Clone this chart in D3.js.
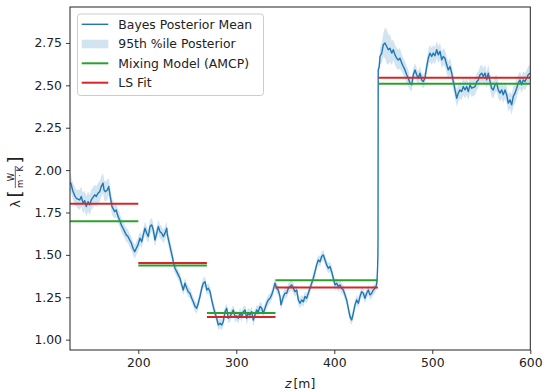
<!DOCTYPE html>
<html><head><meta charset="utf-8">
<script src="https://cdn.jsdelivr.net/npm/d3@7/dist/d3.min.js"></script>
<style>body{margin:0;background:#fff}svg{display:block}text{font-family:"DejaVu Sans",sans-serif}</style>
</head><body><svg id="c" width="544" height="391"></svg>
<script>
// ---- data ----
const zPos = [130.5,131.3,133,135.1,136.7,140.2,141.8,143.6,145.3,146.9,148.7,150.4,152.0,155.5,157.1,158.9,160.6,162.2,164.0,165.0,166.3,168.4,169.8,171.4,173.2,175.9,177.5,179.3,181.0,182.6,184.4,186.1,187.7,189.5,191.2,192.9,194.6,196.3,198.0,199.7,201.7,203.5,205.1,206.8,208.6,210.2,211.9,213.7,215.3,217.0,218.8,220.4,222.1,223.9,225.5,227.2,229.0,229.6,231.6,233.1,234.7,235.7,237.4,239.2,240.8,242.5,244.3,245.9,247.6,249.4,251.0,252.7,254.5,256.1,257.9,259.6,261.2,262.9,264.7,266.3,268.1,269.8,271.4,273.2,274.9,276.5,278.3,280.0,281.6,283.4,285.1,286.7,288.5,290.2,291.8,293.6,295.3,296.9,298.7,300.4,302.0,303.8,305.5,307.1,308.9,310.6,312.2,314.0,315.7,317.3,319.1,320.8,322.4,324.2,325.9,327.5,329.3,331.0,332.6,334.4,336.1,337.7,339.5,341.2,342.8,344.6,345.6,348.0,349.7,351.4,353.1,354.8,356.5,358.2,359.9,361.6,363.3,365.0,366.7,368.4,370.1,371.8,373.5,375.2,376.9,378.6,380.3,382.0,383.7,385.4,387.1,388.8,390.5,392.2,393.9,395.6,397.3,399.0,400.7,402.4,404.1,405.8,407.5,409.2,410.9,412.6,414.3,416.0,417.7,419.4,421.1,422.8,424.5,426.2,427.9,429.6,431.3,433.0,434.7,436.4,438.1,439.8,441.5,443.2,443.8,444.2,444.5,444.6,444.8,445.9,446.6,448.4,450.0,451.7,453.5,455.1,456.8,458.6,460.2,461.9,463.7,465.3,467.0,468.8,470.4,472.1,473.9,475.5,477.2,479.0,480.6,482.3,484.1,485.7,487.4,489.2,490.8,492.5,494.3,495.9,497.6,499.4,501.0,502.7,504.5,506.1,507.9,509.6,511.2,512.9,514.7,516.3,518.1,519.8,521.4,523.2,524.9,526.5,528.3,530.0,531.6,533.4,535.1,536.7,538.5,540.2,543.7,545.4,547.0,548.7,550.4,552.0,553.8,555.5,557.1,558.9,560.6,562.2,564.0,565.7,567.3,569.1,570.8,572.4,574.2,575.9,577.5,579.3,581.0,582.6,584.4,586.1,587.7,589.5,591.2,592.8,594.6,596.3,597.9,599.6];
const lamMean = [1.93,1.92,1.88,1.85,1.834,1.824,1.844,1.805,1.82,1.785,1.814,1.795,1.824,1.854,1.845,1.864,1.873,1.903,1.923,1.883,1.873,1.883,1.903,1.844,1.785,1.755,1.765,1.726,1.706,1.677,1.657,1.637,1.618,1.608,1.588,1.569,1.539,1.519,1.539,1.559,1.598,1.578,1.618,1.657,1.628,1.608,1.667,1.677,1.647,1.588,1.628,1.667,1.637,1.628,1.608,1.628,1.657,1.62,1.569,1.529,1.490,1.460,1.421,1.401,1.382,1.362,1.323,1.293,1.333,1.303,1.283,1.274,1.244,1.224,1.195,1.185,1.215,1.254,1.303,1.333,1.342,1.293,1.303,1.283,1.234,1.195,1.156,1.126,1.087,1.097,1.087,1.106,1.165,1.185,1.126,1.136,1.156,1.175,1.136,1.14,1.126,1.156,1.136,1.165,1.175,1.126,1.156,1.146,1.165,1.116,1.146,1.175,1.165,1.195,1.185,1.156,1.185,1.215,1.234,1.244,1.264,1.293,1.333,1.303,1.293,1.254,1.205,1.254,1.274,1.274,1.303,1.313,1.323,1.303,1.283,1.293,1.234,1.215,1.234,1.224,1.254,1.244,1.274,1.303,1.333,1.362,1.401,1.441,1.470,1.460,1.490,1.500,1.470,1.441,1.421,1.431,1.401,1.362,1.323,1.333,1.313,1.323,1.303,1.293,1.264,1.234,1.185,1.136,1.116,1.156,1.205,1.234,1.215,1.254,1.283,1.274,1.244,1.274,1.293,1.264,1.274,1.293,1.303,1.323,1.372,1.431,1.50,1.59,2.59,2.611,2.670,2.690,2.739,2.749,2.729,2.710,2.719,2.690,2.710,2.680,2.660,2.650,2.660,2.631,2.611,2.591,2.562,2.542,2.513,2.503,2.562,2.591,2.562,2.542,2.572,2.532,2.523,2.542,2.611,2.660,2.690,2.670,2.690,2.675,2.710,2.680,2.700,2.650,2.670,2.660,2.621,2.591,2.611,2.572,2.523,2.473,2.424,2.454,2.473,2.463,2.493,2.473,2.493,2.463,2.503,2.483,2.493,2.523,2.532,2.562,2.572,2.552,2.572,2.532,2.572,2.523,2.483,2.473,2.503,2.513,2.473,2.454,2.473,2.444,2.473,2.444,2.395,2.414,2.385,2.434,2.454,2.483,2.513,2.532,2.503,2.532,2.523,2.542,2.562,2.572];
const lamHalf = [0.05,0.05,0.05,0.05,0.05,0.06,0.06,0.06,0.06,0.06,0.06,0.06,0.06,0.06,0.06,0.06,0.06,0.06,0.06,0.06,0.06,0.06,0.05,0.05,0.05,0.04,0.04,0.04,0.04,0.04,0.04,0.04,0.04,0.04,0.04,0.04,0.04,0.04,0.04,0.04,0.04,0.04,0.04,0.04,0.04,0.04,0.04,0.04,0.04,0.04,0.04,0.04,0.04,0.04,0.04,0.04,0.04,0.04,0.04,0.04,0.04,0.04,0.03,0.03,0.03,0.03,0.03,0.03,0.03,0.03,0.03,0.03,0.03,0.03,0.03,0.03,0.03,0.03,0.03,0.03,0.03,0.03,0.03,0.03,0.03,0.03,0.03,0.03,0.03,0.03,0.03,0.03,0.03,0.03,0.03,0.03,0.03,0.03,0.03,0.03,0.03,0.03,0.03,0.03,0.03,0.04,0.03,0.03,0.03,0.04,0.03,0.03,0.03,0.03,0.03,0.03,0.03,0.03,0.03,0.03,0.03,0.03,0.03,0.03,0.03,0.03,0.03,0.03,0.03,0.03,0.03,0.03,0.03,0.03,0.03,0.03,0.03,0.03,0.03,0.03,0.03,0.03,0.03,0.03,0.03,0.03,0.03,0.03,0.03,0.03,0.03,0.03,0.03,0.03,0.03,0.03,0.03,0.03,0.03,0.03,0.03,0.03,0.03,0.03,0.03,0.03,0.03,0.03,0.03,0.03,0.03,0.03,0.03,0.03,0.03,0.03,0.03,0.03,0.03,0.03,0.03,0.03,0.03,0.03,0.03,0.03,0.03,0.03,0.03,0.04,0.05,0.06,0.07,0.09,0.10,0.09,0.08,0.07,0.06,0.06,0.06,0.06,0.06,0.05,0.05,0.05,0.05,0.05,0.04,0.04,0.04,0.04,0.04,0.04,0.04,0.04,0.04,0.04,0.04,0.05,0.05,0.05,0.05,0.05,0.05,0.05,0.05,0.05,0.05,0.05,0.05,0.05,0.05,0.05,0.05,0.05,0.05,0.05,0.05,0.05,0.05,0.05,0.05,0.05,0.05,0.05,0.05,0.05,0.05,0.05,0.05,0.05,0.05,0.05,0.05,0.05,0.05,0.05,0.05,0.05,0.05,0.05,0.05,0.05,0.05,0.05,0.05,0.05,0.06,0.06,0.06,0.06,0.05,0.05,0.05,0.05,0.05,0.05,0.05,0.05,0.05,0.05,0.05];
const segStart = [130.3, 200, 270, 340, 445];
const segEnd   = [200, 270, 340, 444.5, 600];
const amcpVals = [1.698, 1.437, 1.157, 1.350, 2.510];
const lsVals   = [1.802, 1.452, 1.134, 1.307, 2.545];
const xTicks = [200, 300, 400, 500, 600];
const yTicks = [1.00, 1.25, 1.50, 1.75, 2.00, 2.25, 2.50, 2.75];
const legendLabels = ["Bayes Posterior Mean", "95th %ile Posterior", "Mixing Model (AMCP)", "LS Fit"];

// ---- layout ----
const L = 70, R = 530.3, T = 7, B = 350;
const blue = "#1f77b4", green = "#2ca02c", red = "#d62728";
const svg = d3.select("#c");
const x = d3.scaleLinear().domain([130.3, 600]).range([L, R]);
const y = d3.scaleLinear().domain([0.939, 2.962]).range([B, T]);
const pts = zPos.map((z, i) => ({z, m: lamMean[i], h: lamHalf[i]}));

svg.append("defs").append("clipPath").attr("id", "clip")
  .append("rect").attr("x", L).attr("y", T).attr("width", R - L).attr("height", B - T);
const g = svg.append("g").attr("clip-path", "url(#clip)");

g.append("path").datum(pts)
  .attr("d", d3.area().x(d => x(d.z)).y0(d => y(d.m - d.h)).y1(d => y(d.m + d.h)))
  .attr("fill", blue).attr("fill-opacity", 0.2);
g.append("path").datum(pts)
  .attr("d", d3.line().x(d => x(d.z)).y(d => y(d.m)))
  .attr("fill", "none").attr("stroke", blue).attr("stroke-width", 1.4).attr("stroke-linejoin", "round");

const segs = segStart.map((s, i) => ({s, e: segEnd[i], a: amcpVals[i], l: lsVals[i]}));
g.selectAll(".amcp").data(segs).join("line").attr("class", "amcp")
  .attr("x1", d => x(d.s)).attr("x2", d => x(d.e)).attr("y1", d => y(d.a)).attr("y2", d => y(d.a))
  .attr("stroke", green).attr("stroke-width", 2);
g.selectAll(".ls").data(segs).join("line").attr("class", "ls")
  .attr("x1", d => x(d.s)).attr("x2", d => x(d.e)).attr("y1", d => y(d.l)).attr("y2", d => y(d.l))
  .attr("stroke", red).attr("stroke-width", 2);

// axes
const fs = "12.4px";
const xa = svg.append("g").attr("transform", `translate(0,${B})`)
  .call(d3.axisBottom(x).tickValues(xTicks).tickSize(4).tickPadding(4).tickFormat(d3.format("d")));
const ya = svg.append("g").attr("transform", `translate(${L},0)`)
  .call(d3.axisLeft(y).tickValues(yTicks).tickSize(4).tickPadding(4).tickFormat(d3.format(".2f")));
[xa, ya].forEach(a => {
  a.select(".domain").remove();
  a.selectAll("text").attr("font-size", fs).attr("fill", "#222").style("font-family", "DejaVu Sans");
  a.selectAll("line").attr("stroke", "#222").attr("stroke-width", 0.9);
});
svg.append("rect").attr("x", L).attr("y", T).attr("width", R - L).attr("height", B - T)
  .attr("fill", "none").attr("stroke", "#222").attr("stroke-width", 1);

// x label
const xl = svg.append("text").attr("x", (L + R) / 2).attr("y", 388).attr("text-anchor", "middle")
  .attr("font-size", fs).attr("fill", "#222");
xl.append("tspan").attr("font-style", "italic").text("z");
xl.append("tspan").attr("dx", 2).text("[m]");

// y label (rotated)
const yl = svg.append("g").attr("transform", "translate(15,0) rotate(-90)").attr("fill", "#222");
yl.append("text").attr("x", -204).attr("y", 4.5).attr("text-anchor", "middle").attr("font-size", "13px").text("λ");
yl.append("text").attr("x", -194).attr("y", 6).attr("text-anchor", "middle").attr("font-size", "18px").text("[");
yl.append("text").attr("x", -160).attr("y", 6).attr("text-anchor", "middle").attr("font-size", "18px").text("]");
yl.append("text").attr("x", -177).attr("y", -1.5).attr("text-anchor", "middle").attr("font-size", "8.5px").text("W");
yl.append("line").attr("x1", -188).attr("x2", -166).attr("y1", 0.3).attr("y2", 0.3).attr("stroke", "#222").attr("stroke-width", 0.7);
yl.append("text").attr("x", -177).attr("y", 8).attr("text-anchor", "middle").attr("font-size", "8.5px").text("m · K");

// legend
const lg = svg.append("g");
lg.append("rect").attr("x", 77.5).attr("y", 14).attr("width", 186).attr("height", 81.5).attr("rx", 3)
  .attr("fill", "#fff").attr("fill-opacity", 0.8).attr("stroke", "#cccccc").attr("stroke-width", 1);
const rowY = [24.3, 44, 63.3, 82.7];
legendLabels.forEach((lab, i) => {
  const yy = rowY[i];
  if (i === 1) {
    lg.append("rect").attr("x", 81.7).attr("y", yy - 4.3).attr("width", 26.6).attr("height", 8.6)
      .attr("fill", blue).attr("fill-opacity", 0.2);
  } else {
    lg.append("line").attr("x1", 81.7).attr("x2", 108.3).attr("y1", yy).attr("y2", yy)
      .attr("stroke", [blue, null, green, red][i]).attr("stroke-width", i === 0 ? 1.4 : 2);
  }
  lg.append("text").attr("x", 118.3).attr("y", yy + 4.4).attr("font-size", fs).attr("fill", "#222").text(lab);
});
</script></body></html>
